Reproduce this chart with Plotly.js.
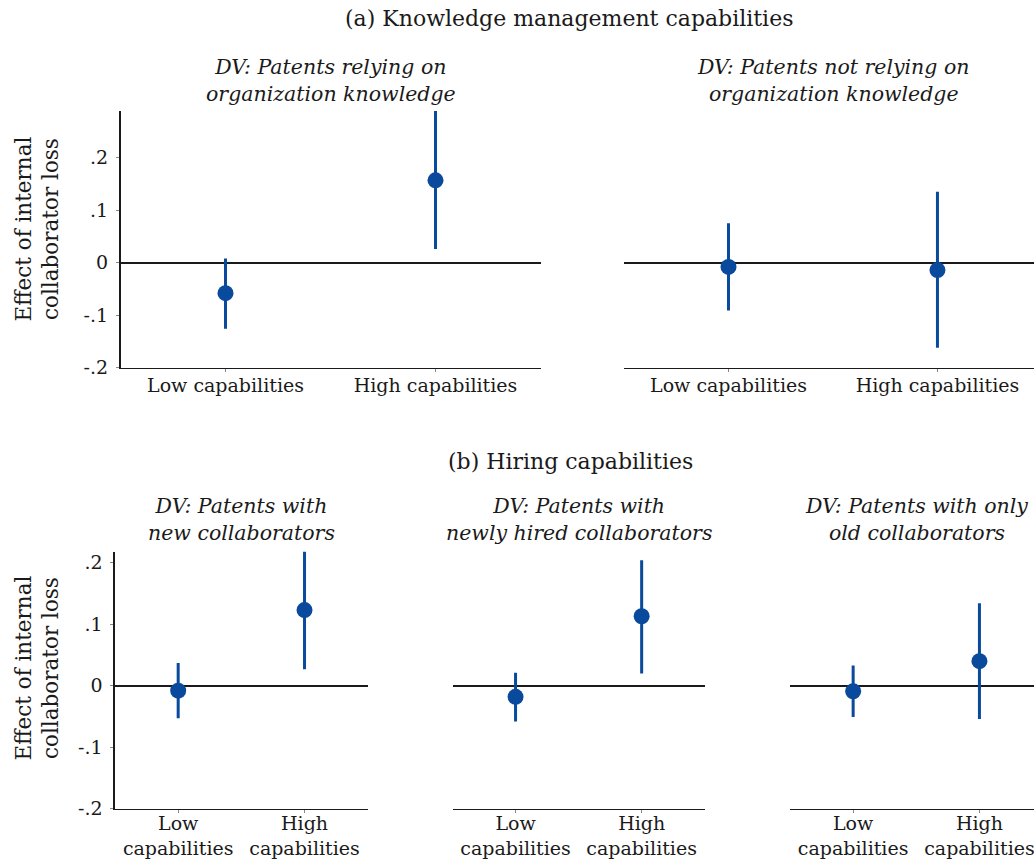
<!DOCTYPE html>
<html>
<head>
<meta charset="utf-8">
<script src="https://cdn.plot.ly/plotly-3.0.1.min.js"></script>
<style>
  html, body { margin: 0; padding: 0; background: #fff; }
  #chart { width: 1034px; height: 861px; }
</style>
</head>
<body>
<div id="chart"></div>
<script>
// Category labels (one line on the wide panels, two lines on the narrow ones)
const wideLabels = ['Low capabilities', 'High capabilities'];
const narrowLabels = ['Low<br>capabilities', 'High<br>capabilities'];

// y-axis ticks
const tickValues = [-0.2, -0.1, 0, 0.1, 0.2];
const tickLabels = ['-.2', '-.1', '0', '.1', '.2'];

// (a) Knowledge management capabilities: point estimates and 95% CI bounds
const relyingEst = [-0.058, 0.157];
const relyingLo = [-0.126, 0.026];
const relyingHi = [0.008, 0.289];

const notRelyingEst = [-0.008, -0.014];
const notRelyingLo = [-0.091, -0.162];
const notRelyingHi = [0.075, 0.135];

// (b) Hiring capabilities
const newCollabEst = [-0.008, 0.123];
const newCollabLo = [-0.053, 0.027];
const newCollabHi = [0.037, 0.225];

const newlyHiredEst = [-0.018, 0.113];
const newlyHiredLo = [-0.058, 0.020];
const newlyHiredHi = [0.021, 0.204];

const oldOnlyEst = [-0.009, 0.040];
const oldOnlyLo = [-0.051, -0.054];
const oldOnlyHi = [0.033, 0.134];

const panelTitles = [
  'DV: Patents relying on<br>organization knowledge',
  'DV: Patents not relying on<br>organization knowledge',
  'DV: Patents with<br>new collaborators',
  'DV: Patents with<br>newly hired collaborators',
  'DV: Patents with only<br>old collaborators'
];
const sectionTitles = ['(a) Knowledge management capabilities', '(b) Hiring capabilities'];
const yTitle = 'Effect of internal<br>collaborator loss';

const FONT = 'DejaVu Serif, serif';
const BLUE = '#0a4a9c';
const INK = '#1a1a1a';

function ciTrace(labels, est, lo, hi, xa, ya) {
  return {
    type: 'scatter', mode: 'markers',
    x: labels, y: est,
    xaxis: xa, yaxis: ya,
    marker: { color: BLUE, size: 16 },
    error_y: {
      type: 'data', symmetric: false,
      array: hi.map((h, i) => h - est[i]),
      arrayminus: est.map((e, i) => e - lo[i]),
      color: BLUE, thickness: 3, width: 0
    },
    hoverinfo: 'skip', showlegend: false
  };
}

const data = [
  ciTrace(wideLabels, relyingEst, relyingLo, relyingHi, 'x', 'y'),
  ciTrace(wideLabels, notRelyingEst, notRelyingLo, notRelyingHi, 'x2', 'y2'),
  ciTrace(narrowLabels, newCollabEst, newCollabLo, newCollabHi, 'x3', 'y3'),
  ciTrace(narrowLabels, newlyHiredEst, newlyHiredLo, newlyHiredHi, 'x4', 'y4'),
  ciTrace(narrowLabels, oldOnlyEst, oldOnlyLo, oldOnlyHi, 'x5', 'y5')
];

const W = 1034, H = 861;
const px = v => v / W;
const py = v => 1 - v / H;

function xAxis(d0, d1, anchor, rightEdge, standoff) {
  return {
    domain: [px(d0), px(d1)], anchor: anchor,
    type: 'category', range: [-0.5, rightEdge],
    showline: true, linecolor: INK, linewidth: 1.6,
    ticks: 'outside', ticklen: 3, tickcolor: '#888', tickwidth: 1,
    ticklabelstandoff: standoff,
    showgrid: false, zeroline: false, fixedrange: true,
    tickfont: { family: FONT, size: 19, color: INK }
  };
}

function yAxis(d0, d1, top, anchor, labelled) {
  return {
    domain: [py(d1), py(d0)], anchor: anchor,
    range: [-0.2, top],
    tickvals: tickValues, ticktext: tickLabels,
    showticklabels: labelled,
    showline: labelled, linecolor: INK, linewidth: 1.6,
    ticks: labelled ? 'outside' : '', ticklen: 3, tickcolor: '#888', tickwidth: 1,
    ticklabelstandoff: 4,
    showgrid: false, zeroline: true, zerolinecolor: INK, zerolinewidth: 1.6,
    fixedrange: true,
    tickfont: { family: FONT, size: 19, color: INK }
  };
}

const topRow = [111, 367.7];
const botRow = [551.7, 808.7];

const layout = {
  width: W, height: H,
  margin: { l: 0, r: 0, t: 0, b: 0 },
  paper_bgcolor: '#fff', plot_bgcolor: '#fff',
  font: { family: FONT, color: INK },
  showlegend: false,
  xaxis:  xAxis(120.5, 540.5, 'y', 1.5, -3),
  yaxis:  yAxis(topRow[0], topRow[1], 0.289, 'x', true),
  xaxis2: xAxis(624, 1034, 'y2', 1.462, -3),
  yaxis2: yAxis(topRow[0], topRow[1], 0.289, 'x2', false),
  xaxis3: xAxis(115, 367.7, 'y3', 1.5, -6),
  yaxis3: yAxis(botRow[0], botRow[1], 0.218, 'x3', true),
  xaxis4: xAxis(452.5, 704.7, 'y4', 1.5, -6),
  yaxis4: yAxis(botRow[0], botRow[1], 0.218, 'x4', false),
  xaxis5: xAxis(790, 1034, 'y5', 1.432, -6),
  yaxis5: yAxis(botRow[0], botRow[1], 0.218, 'x5', false),
  annotations: []
};

function note(text, x, y, size, opts) {
  return Object.assign({
    text: text, xref: 'paper', yref: 'paper',
    x: px(x), y: py(y), xanchor: 'center', yanchor: 'middle',
    showarrow: false, font: { family: FONT, size: size, color: INK }
  }, opts || {});
}

layout.annotations.push(note(sectionTitles[0], 569, 18, 22));
layout.annotations.push(note(sectionTitles[1], 570, 461, 22));

const subCenters = [[330.5, 80], [833, 80], [241, 519], [578.7, 519], [916, 519]];
panelTitles.forEach((t, i) => {
  layout.annotations.push(note('<i>' + t + '</i>', subCenters[i][0], subCenters[i][1], 20.5));
});

layout.annotations.push(note(yTitle, 36.5, 229, 21.5, { textangle: -90 }));
layout.annotations.push(note(yTitle, 36.5, 668, 21.5, { textangle: -90 }));

Plotly.newPlot('chart', data, layout, { staticPlot: true, displayModeBar: false });
</script>
</body>
</html>
